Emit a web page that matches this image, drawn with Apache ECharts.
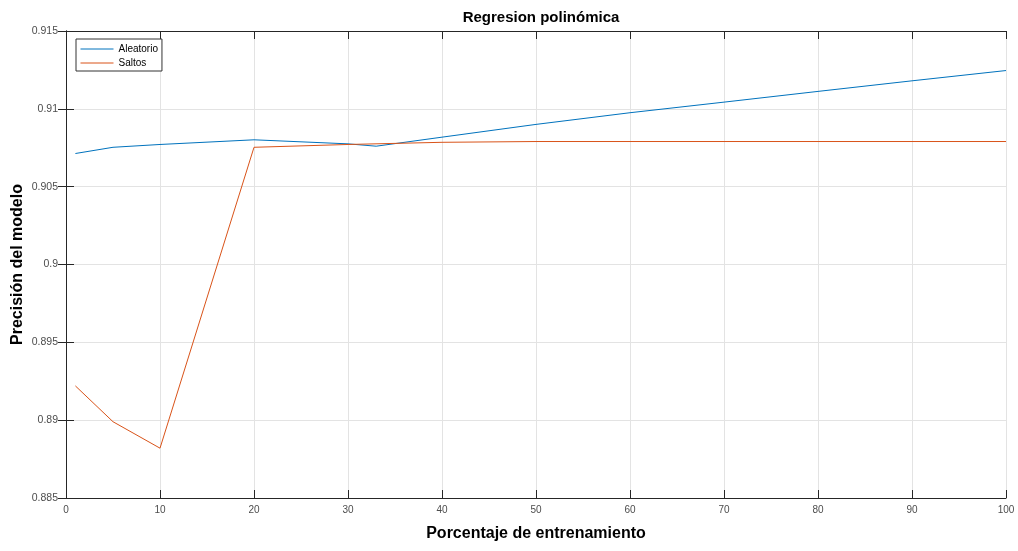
<!DOCTYPE html>
<html>
<head>
<meta charset="utf-8">
<script src="https://cdn.jsdelivr.net/npm/echarts@6/dist/echarts.min.js"></script>
<style>html,body{margin:0;padding:0;background:#fff}#c{width:1018px;height:551px}</style>
</head>
<body>
<div id="c"></div>
<script>
var xAleatorio = [1, 5, 10, 20, 30, 33, 40, 50, 60, 70, 80, 90, 100];
var yAleatorio = [0.90713, 0.90753, 0.90771, 0.90801, 0.90775, 0.90760, 0.90818, 0.90900, 0.90975, 0.91043, 0.91112, 0.91180, 0.91246];
var xSaltos = [1, 5, 10, 20, 30, 40, 50, 60, 70, 80, 90, 100];
var ySaltos = [0.8922, 0.8899, 0.8882, 0.90753, 0.90771, 0.90785, 0.90790, 0.90790, 0.90790, 0.90790, 0.90790, 0.90790];
var seriesNames = ['Aleatorio', 'Saltos'];
var titleText = 'Regresion polinómica';
var xName = 'Porcentaje de entrenamiento';
var yName = 'Precisión del modelo';

function pairs(xs, ys){ return xs.map(function(x,i){ return [x, ys[i]]; }); }
var font = 'Liberation Sans, Arial, sans-serif';
var axisCol = '#262626';
var gridCol = '#e3e3e3';

var chart = echarts.init(document.getElementById('c'));
chart.setOption({
  backgroundColor: '#fff',
  animation: false,
  title: {
    text: titleText, left: 536, top: 5, textAlign: 'center',
    textStyle: {fontFamily: font, fontSize: 15, fontWeight: 'bold', color: '#000'}
  },
  legend: {
    data: seriesNames, orient: 'vertical', left: 76, top: 39,
    itemWidth: 33, itemHeight: 10, itemGap: 4,
    itemStyle: {opacity: 0},
    lineStyle: {width: 1},
    padding: [5, 4, 3, 4],
    borderColor: '#333', borderWidth: 1, borderRadius: 0, backgroundColor: '#fff',
    textStyle: {fontFamily: font, fontSize: 10, color: '#000'}
  },
  grid: {left: 66, right: 12, top: 31, bottom: 53, containLabel: false, outerBoundsMode: 'none'},
  xAxis: [{
    type: 'value', min: 0, max: 100, interval: 10, position: 'bottom',
    name: xName, nameLocation: 'middle', nameGap: 28, nameMoveOverlap: false,
    nameTextStyle: {fontFamily: font, fontSize: 16, fontWeight: 'bold', color: '#000'},
    axisLine: {show: true, lineStyle: {color: axisCol, width: 1}},
    axisTick: {show: true, inside: true, length: 8, lineStyle: {color: axisCol}},
    axisLabel: {fontFamily: font, fontSize: 10, color: '#4d4d4d', margin: 7},
    splitLine: {show: true, lineStyle: {color: gridCol, width: 1}}
  }, {
    type: 'value', min: 0, max: 100, interval: 10, position: 'top',
    axisLine: {show: true, lineStyle: {color: axisCol, width: 1}},
    axisTick: {show: true, inside: true, length: 8, lineStyle: {color: axisCol}},
    axisLabel: {show: false}, splitLine: {show: false}
  }],
  yAxis: [{
    type: 'value', min: 0.885, max: 0.915, interval: 0.005, position: 'left',
    name: yName, nameLocation: 'middle', nameGap: 40, nameRotate: 90, nameMoveOverlap: false,
    nameTextStyle: {fontFamily: font, fontSize: 16, fontWeight: 'bold', color: '#000'},
    axisLine: {show: true, lineStyle: {color: axisCol, width: 1}},
    axisTick: {show: true, inside: true, length: 8, lineStyle: {color: axisCol}},
    axisLabel: {fontFamily: font, fontSize: 10.5, color: '#4d4d4d', margin: 8,
      formatter: function(v){ return String(parseFloat(v.toFixed(3))); }},
    splitLine: {show: true, lineStyle: {color: gridCol, width: 1}}
  }, {
    type: 'value', min: 0.885, max: 0.915, interval: 0.005, position: 'right',
    axisLine: {show: true, lineStyle: {color: axisCol, width: 1}},
    axisTick: {show: true, inside: true, length: 8, lineStyle: {color: axisCol}},
    axisLabel: {show: false}, splitLine: {show: false}
  }],
  series: [{
    name: seriesNames[0], type: 'line', xAxisIndex: 0, yAxisIndex: 0,
    data: pairs(xAleatorio, yAleatorio), symbol: 'none', showSymbol: false,
    lineStyle: {color: '#0072BD', width: 1}, itemStyle: {color: '#0072BD'}
  }, {
    name: seriesNames[1], type: 'line', xAxisIndex: 0, yAxisIndex: 0,
    data: pairs(xSaltos, ySaltos), symbol: 'none', showSymbol: false,
    lineStyle: {color: '#D95319', width: 1}, itemStyle: {color: '#D95319'}
  }]
});
</script>
</body>
</html>
